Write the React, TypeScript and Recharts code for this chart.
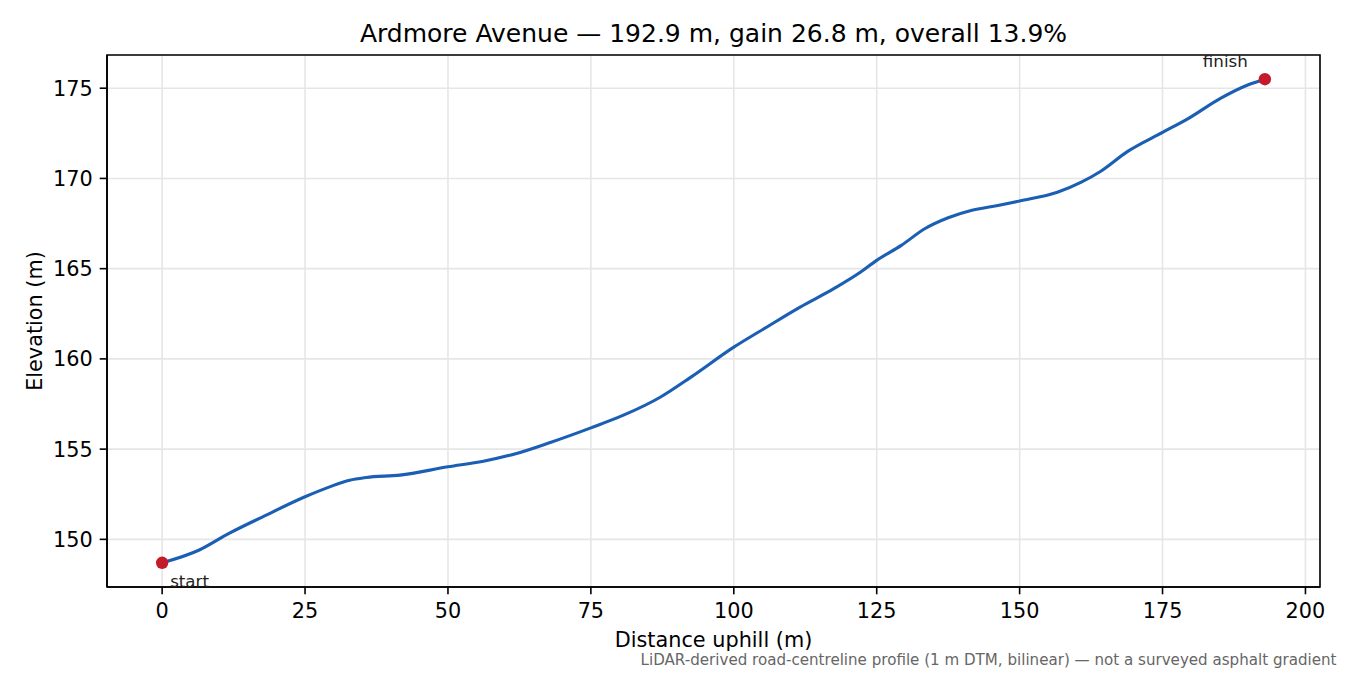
import {
  ComposedChart,
  Line,
  XAxis,
  YAxis,
  CartesianGrid,
  ReferenceArea,
} from "recharts";

// profile: distance uphill (m) and elevation (m)
const DIST = [
  0, 6.5, 11.7, 17.6, 25, 29.3, 32.8, 35.7, 41.6, 50, 56.2, 62, 67.9, 75,
  80.7, 87.2, 92.5, 100, 105.8, 111.6, 117.5, 122.2, 125, 129.3, 133.4,
  137.5, 141.5, 146.2, 150, 156.6, 160.7, 164.2, 168.9, 175, 179.4, 185.2,
  189.9, 192.9,
];
const ELEV = [
  148.7, 149.41, 150.33, 151.25, 152.36, 152.91, 153.28, 153.43, 153.56,
  154.02, 154.33, 154.76, 155.37, 156.18, 156.88, 157.89, 158.99, 160.65,
  161.77, 162.87, 163.89, 164.81, 165.46, 166.29, 167.21, 167.82, 168.22,
  168.5, 168.75, 169.23, 169.78, 170.4, 171.5, 172.55, 173.3, 174.45,
  175.18, 175.5,
];
const X_TICKS = [0, 25, 50, 75, 100, 125, 150, 175, 200];
const Y_TICKS = [150, 155, 160, 165, 170, 175];

const TITLE = "Ardmore Avenue — 192.9 m, gain 26.8 m, overall 13.9%";
const X_LABEL = "Distance uphill (m)";
const Y_LABEL = "Elevation (m)";
const NOTE =
  "LiDAR-derived road-centreline profile (1 m DTM, bilinear) — not a surveyed asphalt gradient";

const data = DIST.map((d, i) => ({ dist: d, elev: ELEV[i] }));

// matplotlib-style 5% margins
const xSpan = DIST[DIST.length - 1] - DIST[0];
const ySpan = ELEV[ELEV.length - 1] - ELEV[0];
const X_DOMAIN = [DIST[0] - xSpan * 0.05, DIST[DIST.length - 1] + xSpan * 0.05];
const Y_DOMAIN = [ELEV[0] - ySpan * 0.05, ELEV[ELEV.length - 1] + ySpan * 0.05];

const FONT = "DejaVu Sans, sans-serif";
const LINE = "#1b5fb4";
const DOT = "#c41b2a";

function EndDot(props: any) {
  const { cx, cy, index } = props;
  const last = data.length - 1;
  if (index !== 0 && index !== last) return <g key={`d${index}`} />;
  const isStart = index === 0;
  return (
    <g key={`d${index}`}>
      <circle cx={cx} cy={cy} r={6.2} fill={DOT} />
      <text
        x={isStart ? cx + 8 : cx - 17}
        y={isStart ? cy + 24 : cy - 12.5}
        textAnchor={isStart ? "start" : "end"}
        fontSize={16.7}
        fontFamily={FONT}
        fill="#222"
      >
        {isStart ? "start" : "finish"}
      </text>
    </g>
  );
}

export default function App() {
  const tickStyle = { fontSize: 20.8, fill: "#000", fontFamily: FONT };
  const axisLine = { stroke: "#000", strokeWidth: 1.6 };
  return (
    <div
      style={{
        position: "absolute",
        left: 0,
        top: 0,
        width: 1350,
        height: 675,
        background: "#fff",
      }}
    >
      <ComposedChart
        width={1350}
        height={675}
        data={data}
        margin={{ top: 55, right: 30, left: 7, bottom: 28 }}
      >
        <CartesianGrid stroke="#e6e6e6" strokeWidth={1.6} />
        <XAxis
          dataKey="dist"
          type="number"
          domain={X_DOMAIN}
          allowDataOverflow
          ticks={X_TICKS}
          height={60}
          tick={tickStyle}
          tickSize={7.3}
          tickMargin={9}
          tickLine={axisLine}
          axisLine={axisLine}
        />
        <YAxis
          type="number"
          domain={Y_DOMAIN}
          allowDataOverflow
          ticks={Y_TICKS}
          width={100}
          tick={tickStyle}
          tickSize={7.3}
          tickMargin={7}
          tickLine={axisLine}
          axisLine={axisLine}
        />
        {/* frame: top and right spines */}
        <ReferenceArea
          x1={X_DOMAIN[0]}
          x2={X_DOMAIN[1]}
          y1={Y_DOMAIN[0]}
          y2={Y_DOMAIN[1]}
          fill="none"
          fillOpacity={0}
          stroke="#000"
          strokeWidth={1.6}
        />
        <Line
          type="monotone"
          dataKey="elev"
          stroke={LINE}
          strokeWidth={3.1}
          dot={EndDot}
          activeDot={false}
          isAnimationActive={false}
        />
      </ComposedChart>
      <svg
        width={1350}
        height={675}
        style={{ position: "absolute", left: 0, top: 0, pointerEvents: "none" }}
      >
        <text x={713.5} y={42} textAnchor="middle" fontSize={25} fontFamily={FONT} fill="#000">
          {TITLE}
        </text>
        <text x={713.5} y={646.5} textAnchor="middle" fontSize={20.8} fontFamily={FONT} fill="#000">
          {X_LABEL}
        </text>
        <text
          transform="translate(42.3,321) rotate(-90)"
          textAnchor="middle"
          fontSize={20.8}
          fontFamily={FONT}
          fill="#000"
        >
          {Y_LABEL}
        </text>
        <text x={1336.5} y={665} textAnchor="end" fontSize={15.1} fontFamily={FONT} fill="#666">
          {NOTE}
        </text>
      </svg>
    </div>
  );
}
